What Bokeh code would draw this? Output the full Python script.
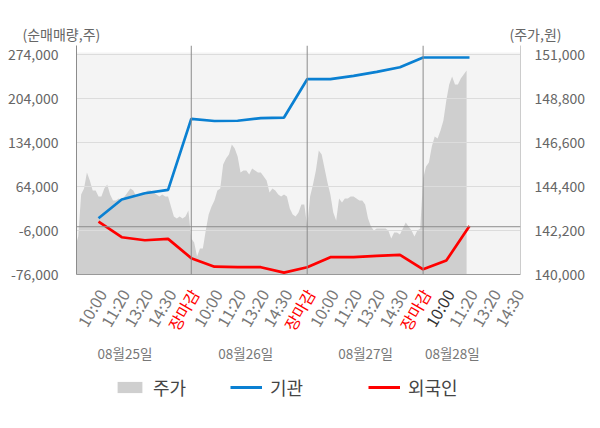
import math
from bokeh.plotting import figure
from bokeh.layouts import column
from bokeh.models import (Range1d, LinearAxis, FixedTicker, NumeralTickFormatter,
                          Span, Legend, LegendItem, ColumnDataSource)
from bokeh.core.properties import value
from bokeh.embed import file_html
from bokeh.resources import INLINE

FONT = "Noto Sans CJK KR"

# ---------------- data ----------------
day_names = ["08월25일", "08월26일", "08월27일", "08월28일"]
slot_names = ["10:00", "11:20", "13:20", "14:30", "장마감"]
last_day_slots = 4

price_0825 = [141400, 141900, 144000, 144300, 145100, 144700, 144200, 144200, 143900, 143900,
              144300, 144500, 144000, 143700, 143700, 143800, 143700, 143900, 144100, 144300,
              144200, 143900, 144000, 144100, 144100, 144200, 144200, 144100, 144000, 143900,
              144000, 143900, 143900, 143400, 142900, 142800, 142900, 142800, 142900, 143200]
price_0826 = [141800, 141600, 140900, 141300, 141300, 142200, 143000, 143400, 143700, 144200,
              144300, 145500, 145800, 146000, 146500, 146300, 145900, 145100, 145200, 145200,
              145000, 145300, 145200, 145100, 145100, 144900, 144700, 144100, 144300, 144200,
              144000, 143900, 144000, 143900, 143300, 143000, 142900, 143100, 143500, 143500]
price_0827 = [142400, 143900, 144500, 145200, 146200, 146000, 145300, 144600, 144000, 143100,
              142700, 143800, 143600, 143800, 143800, 143900, 143900, 143800, 143700, 143700,
              143500, 142800, 142400, 142200, 142300, 142300, 142300, 142300, 142200, 141800,
              142100, 142100, 142000, 142300, 142600, 142400, 142200, 141900, 142200, 142300]
price_0828 = [144800, 145400, 145600, 146400, 146900, 146800, 147200, 147700, 148700, 149500,
              149900, 149500, 149500, 149800, 150000, 150200]
samples_per_day = 40

inst_net = [13500, 43300, 53300, 58700, 171700,
            168200, 168600, 172800, 173700, 234700,
            234700, 240000, 246400, 253700, 269200,
            269200, 269200]
foreign_net = [8300, -16700, -21500, -19300, -50000,
               -63500, -64400, -64400, -73000, -64400,
               -48500, -48500, -46300, -44700, -67800,
               -53800, 1000]

left_ticks = [-76000, -6000, 64000, 134000, 204000, 274000]
right_ticks = [140000, 142200, 144400, 146600, 148800, 151000]

# ---------------- geometry ----------------
PAGE_W = 600
TOP_H = 45           # strip holding the axis titles
BB = 9               # room below the chart frame for the lowest tick labels
MAIN_H = 229 + BB
BOT_H = 428 - TOP_H - MAIN_H
BL, BR = 76, 80
X0, X1 = 0.05, 19.2
frame_w = PAGE_W - BL - BR
frame_h = MAIN_H - BB
unit_px = frame_w / (X1 - X0)
L_per_px = (left_ticks[1] - left_ticks[0]) / 44.0
R_per_px = (right_ticks[1] - right_ticks[0]) / 44.0
L0 = left_ticks[0]
L1 = L0 + frame_h * L_per_px
R0 = right_ticks[0]
R1 = R0 + frame_h * R_per_px

# ---------------- main chart ----------------
p = figure(width=PAGE_W, height=MAIN_H, x_range=Range1d(X0, X1), y_range=Range1d(L0, L1),
           output_backend="svg", toolbar_location=None,
           min_border_left=BL, min_border_right=BR, min_border_top=0, min_border_bottom=BB)
p.frame_align = False
p.outline_line_color = None
p.background_fill_color = "white"
p.border_fill_color = "white"
p.extra_y_ranges = {"price": Range1d(R0, R1)}

p.quad(left=[X0], right=[X1], bottom=[L0], top=[L0 + (frame_h - 7) * L_per_px],
       fill_color="#f4f4f4", line_color=None, level="image")

xs, ys = [], []
for d, arr in enumerate([price_0825, price_0826, price_0827, price_0828]):
    for i, v in enumerate(arr):
        xs.append(d * 5 + i * 5 / samples_per_day)
        ys.append(v)
area = p.varea(x=xs, y1=[R0] * len(xs), y2=ys, y_range_name="price",
               fill_color="#cfcfcf", level="image")

p.xgrid.visible = False
p.ygrid.ticker = FixedTicker(ticks=left_ticks)
p.ygrid.grid_line_color = "#dcdcdc"
p.ygrid.level = "underlay"

line_x = []
for d in range(4):
    n = 5 if d < 3 else last_day_slots
    for k in range(1, n + 1):
        line_x.append(d * 5 + k)
lx = line_x[:len(inst_net)]
r_inst = p.line(lx, inst_net, line_color="#0a80d2", line_width=2.7)
r_for = p.line(lx, foreign_net, line_color="#ff0000", line_width=2.7)

p.add_layout(Span(location=0, dimension="width", line_color="#8c8c8c", line_width=1))
for d in range(1, 4):
    p.add_layout(Span(location=d * 5, dimension="height", line_color="#8c8c8c", line_width=1))

ya = p.yaxis[0]
ya.ticker = FixedTicker(ticks=left_ticks)
ya.formatter = NumeralTickFormatter(format="0,0")
ya.axis_line_color = "#8c8c8c"
ya.major_tick_line_color = None
ya.minor_tick_line_color = None
ya.major_label_standoff = 12
ya.major_label_text_font = FONT
ya.major_label_text_font_size = "14px"
ya.major_label_text_color = "#666666"

ra = LinearAxis(y_range_name="price", ticker=FixedTicker(ticks=right_ticks),
                formatter=NumeralTickFormatter(format="0,0"))
ra.axis_line_color = "#cccccc"
ra.major_tick_line_color = None
ra.minor_tick_line_color = None
ra.major_label_standoff = 8
ra.major_label_text_font = FONT
ra.major_label_text_font_size = "14px"
ra.major_label_text_color = "#666666"
p.add_layout(ra, "right")

xa = p.xaxis[0]
xa.ticker = FixedTicker(ticks=[])
xa.axis_line_color = "#999999"
xa.major_tick_line_color = None
xa.minor_tick_line_color = None
xa.major_label_standoff = 0

# ---------------- top strip: axis titles ----------------
top = figure(width=PAGE_W, height=TOP_H, x_range=Range1d(0, PAGE_W), y_range=Range1d(TOP_H, 0),
             output_backend="svg", toolbar_location=None, x_axis_type=None, y_axis_type=None,
             min_border=0)
top.frame_align = False
top.outline_line_color = None
top.grid.visible = False
top.text(x=[22], y=[33], text=["(순매매량,주)"], text_align="left", text_baseline="middle",
         text_font=value(FONT), text_font_size="14px", text_color="#666666")
top.text(x=[509], y=[33], text=["(주가,원)"], text_align="left", text_baseline="middle",
         text_font=value(FONT), text_font_size="14px", text_color="#666666")

# ---------------- bottom strip: time labels, dates, legend ----------------
bx0 = X0 - BL / unit_px
bx1 = X0 + (PAGE_W - BL) / unit_px
bot = figure(width=PAGE_W, height=BOT_H, x_range=Range1d(bx0, bx1), y_range=Range1d(BOT_H, 0),
             output_backend="svg", toolbar_location=None, x_axis_type=None, y_axis_type=None,
             min_border=0)
bot.frame_align = False
bot.outline_line_color = None
bot.grid.visible = False
y_off = TOP_H + MAIN_H   # page y of the strip's top edge

tx, tt, tc = [], [], []
for d in range(4):
    n = 5 if d < 3 else last_day_slots
    for k in range(1, n + 1):
        name = slot_names[k - 1]
        if name == "장마감":
            col = "#ff0000"
        elif d == 3 and k == 1:
            col = "#333333"
        else:
            col = "#777777"
        tx.append(d * 5 + k + 3 / unit_px)
        tt.append(name)
        tc.append(col)
src = ColumnDataSource(dict(x=tx, y=[290 - y_off] * len(tx), text=tt, color=tc))
bot.text(x="x", y="y", text="text", text_color="color", source=src,
         angle=math.radians(60), text_align="right", text_baseline="middle",
         text_font=value(FONT), text_font_size="16px")

day_pos = [2.14, 7.35, 12.52, 16.26]
bot.text(x=day_pos, y=[352 - y_off] * 4, text=day_names, text_align="center",
         text_baseline="middle", text_font=value(FONT), text_font_size="13.5px",
         text_color="#777777")

legend_items = [("주가", 114, 31, 14), ("기관", 230, 32, 14), ("외국인", 368, 32, 14)]
proxies = {
    "주가": bot.varea(x=[0, 1], y1=[0, 0], y2=[0, 0], fill_color="#cfcfcf"),
    "기관": bot.line(x=[0, 1], y=[-50, -50], line_color="#0a80d2", line_width=3),
    "외국인": bot.line(x=[0, 1], y=[-50, -50], line_color="#ff0000", line_width=3),
}
for label, gx, gw, gh in legend_items:
    lg = Legend(items=[LegendItem(label=label, renderers=[proxies[label]])],
                location=(gx, 428 - 386 - 14), orientation="horizontal",
                glyph_width=gw, glyph_height=gh, label_standoff=8, padding=0, margin=0,
                border_line_color=None, background_fill_alpha=0,
                label_text_font=FONT, label_text_font_size="18px",
                label_text_color="#444444", spacing=0)
    bot.add_layout(lg, "center")

layout = column(top, p, bot, spacing=0)
open("out.html", "w").write(file_html(layout, INLINE))
